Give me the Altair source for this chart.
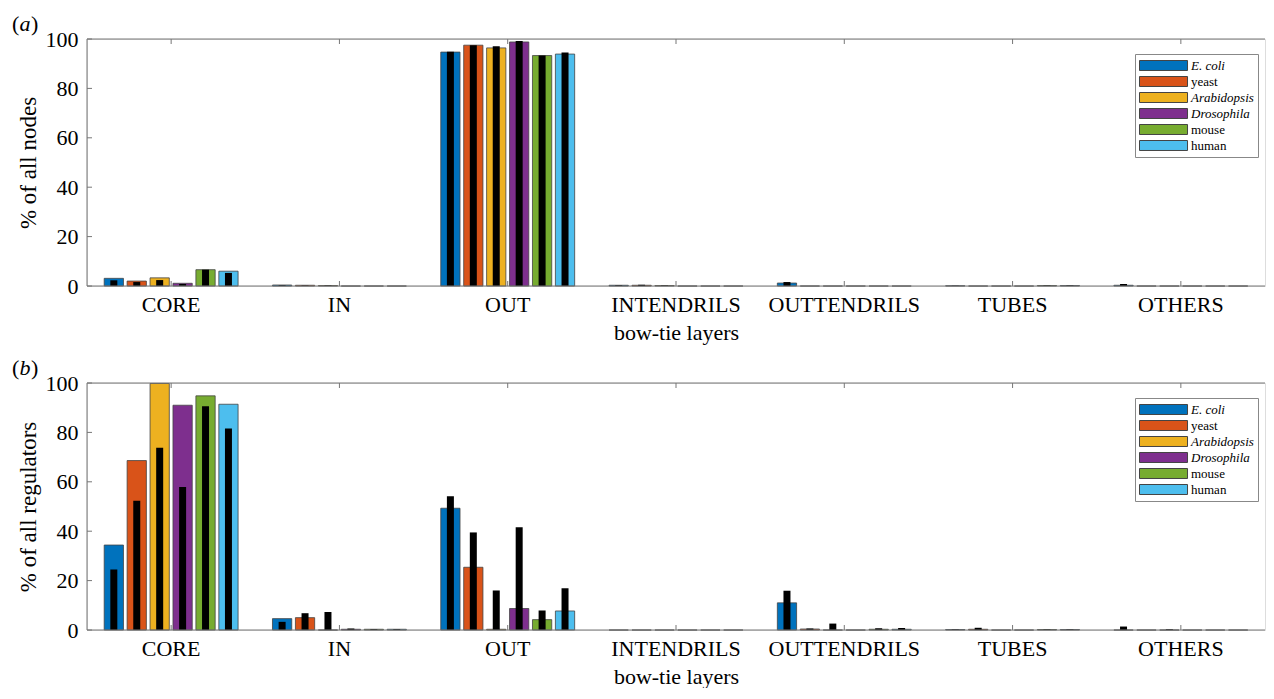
import altair as alt
import pandas as pd

categories = ["CORE", "IN", "OUT", "INTENDRILS", "OUTTENDRILS", "TUBES", "OTHERS"]
species = ["E. coli", "yeast", "Arabidopsis", "Drosophila", "mouse", "human"]
colors = ["#0072BD", "#D95319", "#EDB120", "#7E2F8E", "#77AC30", "#4DBEEE"]
y_ticks = [0, 20, 40, 60, 80, 100]

# (a) % of all nodes: coloured bars
a_ecoli = [3.1, 0.4, 94.7, 0.3, 1.2, 0.1, 0.3]
a_yeast = [2.0, 0.3, 97.5, 0.3, 0.0, 0.0, 0.0]
a_arab = [3.3, 0.2, 96.4, 0.2, 0.0, 0.0, 0.0]
a_dros = [1.1, 0.0, 98.8, 0.0, 0.0, 0.0, 0.0]
a_mouse = [6.6, 0.0, 93.3, 0.0, 0.0, 0.2, 0.0]
a_human = [6.0, 0.0, 93.9, 0.0, 0.0, 0.2, 0.0]
# (a) inner black bars
a_ecoli_k = [2.3, 0.3, 94.8, 0.3, 1.6, 0.1, 0.8]
a_yeast_k = [1.6, 0.2, 97.5, 0.5, 0.0, 0.0, 0.0]
a_arab_k = [2.4, 0.2, 97.1, 0.2, 0.0, 0.0, 0.0]
a_dros_k = [0.8, 0.0, 99.2, 0.0, 0.0, 0.0, 0.0]
a_mouse_k = [6.6, 0.0, 93.3, 0.0, 0.0, 0.2, 0.0]
a_human_k = [5.3, 0.0, 94.5, 0.0, 0.0, 0.2, 0.0]

# (b) % of all regulators: coloured bars
b_ecoli = [34.4, 4.6, 49.3, 0.0, 11.0, 0.2, 0.0]
b_yeast = [68.6, 5.0, 25.4, 0.0, 0.4, 0.3, 0.0]
b_arab = [99.8, 0.0, 0.3, 0.0, 0.0, 0.0, 0.0]
b_dros = [91.0, 0.3, 8.7, 0.0, 0.0, 0.0, 0.0]
b_mouse = [94.8, 0.3, 4.2, 0.0, 0.3, 0.2, 0.0]
b_human = [91.4, 0.3, 7.7, 0.0, 0.3, 0.2, 0.0]
# (b) inner black bars
b_ecoli_k = [24.5, 3.3, 54.2, 0.0, 15.9, 0.2, 1.4]
b_yeast_k = [52.3, 6.8, 39.5, 0.0, 0.6, 0.9, 0.0]
b_arab_k = [73.8, 7.3, 16.0, 0.0, 2.6, 0.0, 0.3]
b_dros_k = [57.9, 0.6, 41.6, 0.0, 0.0, 0.0, 0.0]
b_mouse_k = [90.6, 0.3, 7.9, 0.0, 0.7, 0.2, 0.0]
b_human_k = [81.6, 0.3, 16.9, 0.0, 0.8, 0.2, 0.0]

SERIF = "Liberation Serif"
W, H = 1178, 247
FRAME = "#777777"


def make_df(series):
    rows = []
    for sp, vals in zip(species, series):
        for cat, v in zip(categories, vals):
            rows.append({"layer": cat, "species": sp, "pct": v})
    return pd.DataFrame(rows)


italic_expr = "datum.value == 'yeast' || datum.value == 'mouse' || datum.value == 'human' ? 'normal' : 'italic'"


def panel(bars, blacks, ytitle, tag):
    df_bar = make_df(bars)
    df_blk = make_df(blacks)
    xenc = alt.X("layer:N", sort=categories,
                 scale=alt.Scale(paddingInner=0, paddingOuter=0),
                 axis=alt.Axis(title="bow-tie layers", labelAngle=0, ticks=False, domain=False,
                               labelFont=SERIF, titleFont=SERIF, labelColor="black",
                               titleColor="black",
                               labelFontSize=22, titleFontSize=22, titleFontWeight="normal",
                               labelPadding=8, titlePadding=7))
    xoff = alt.XOffset("species:N", sort=species,
                       scale=alt.Scale(paddingInner=0.16, paddingOuter=0.75))
    yenc = alt.Y("pct:Q", scale=alt.Scale(domain=[0, 100], nice=False),
                 axis=alt.Axis(title=ytitle, values=y_ticks, ticks=False, domain=False, grid=False,
                               labelFont=SERIF, titleFont=SERIF, labelColor="black",
                               titleColor="black",
                               labelFontSize=22, titleFontSize=23, titleFontWeight="normal",
                               labelPadding=9, titlePadding=5))
    colored = alt.Chart(df_bar).mark_bar(stroke="#444444", strokeWidth=0.8).encode(
        x=xenc, xOffset=xoff, y=yenc,
        color=alt.Color("species:N", sort=species,
                        scale=alt.Scale(domain=species, range=colors),
                        legend=alt.Legend(orient="none", legendX=1048, legendY=15, title=None,
                                          symbolType="M-1,-0.714L5.86,-0.714L5.86,0.714L-1,0.714Z",
                                          symbolSize=196, symbolStrokeColor="#444444",
                                          symbolStrokeWidth=1, labelFont=SERIF, labelFontSize=13,
                                          labelColor="black", labelFontStyle={"expr": italic_expr},
                                          fillColor="white", strokeColor="#888888", padding=4,
                                          rowPadding=1, labelOffset=37)),
    )
    black = alt.Chart(df_blk).mark_bar(color="black", width=7).encode(
        x=alt.X("layer:N", sort=categories), xOffset=alt.XOffset("species:N", sort=species),
        y=alt.Y("pct:Q"),
    )
    cat_df = pd.DataFrame({"layer": categories})
    tick_bot = alt.Chart(cat_df).mark_rule(color=FRAME).encode(
        x=alt.X("layer:N", sort=categories), y=alt.value(H), y2=alt.value(H - 5))
    tick_top = alt.Chart(cat_df).mark_rule(color=FRAME).encode(
        x=alt.X("layer:N", sort=categories), y=alt.value(0), y2=alt.value(5))
    yt_df = pd.DataFrame({"pct": y_ticks})
    tick_left = alt.Chart(yt_df).mark_rule(color=FRAME).encode(
        y=alt.Y("pct:Q"), x=alt.value(0), x2=alt.value(5))
    frame_df = pd.DataFrame({"k": [0]})
    frame_top = alt.Chart(frame_df).mark_rule(color=FRAME).encode(
        x=alt.value(0), x2=alt.value(W), y=alt.value(0))
    frame_bot = alt.Chart(frame_df).mark_rule(color=FRAME).encode(
        x=alt.value(0), x2=alt.value(W), y=alt.value(H))
    frame_left = alt.Chart(frame_df).mark_rule(color=FRAME).encode(
        x=alt.value(0), y=alt.value(0), y2=alt.value(H))
    tag_df = pd.DataFrame({"t": [tag]})
    p_open = alt.Chart(tag_df).mark_text(align="left", baseline="alphabetic", font=SERIF,
                                         fontSize=22, color="black").encode(
        x=alt.value(-75), y=alt.value(-8), text=alt.value("("))
    p_letter = alt.Chart(tag_df).mark_text(align="left", baseline="alphabetic", font=SERIF,
                                           fontSize=22, fontStyle="italic", color="black").encode(
        x=alt.value(-67.5), y=alt.value(-8), text="t:N")
    p_close = alt.Chart(tag_df).mark_text(align="left", baseline="alphabetic", font=SERIF,
                                          fontSize=22, color="black").encode(
        x=alt.value(-56), y=alt.value(-8), text=alt.value(")"))
    return alt.layer(colored, black, tick_bot, tick_top, tick_left,
                     frame_top, frame_bot, frame_left,
                     p_open, p_letter, p_close).properties(width=W, height=H)


top = panel([a_ecoli, a_yeast, a_arab, a_dros, a_mouse, a_human],
            [a_ecoli_k, a_yeast_k, a_arab_k, a_dros_k, a_mouse_k, a_human_k],
            "% of all nodes", "a")
bottom = panel([b_ecoli, b_yeast, b_arab, b_dros, b_mouse, b_human],
               [b_ecoli_k, b_yeast_k, b_arab_k, b_dros_k, b_mouse_k, b_human_k],
               "% of all regulators", "b")

chart = alt.vconcat(top, bottom, spacing=12).resolve_scale(color="independent").resolve_legend(
    color="independent"
).properties(padding={"left": 3, "top": 4, "right": 0, "bottom": 0}).configure_view(
    stroke="transparent", strokeWidth=0
).configure(background="white")

chart.save("out.html", embed_options={"renderer": "svg", "actions": False})
